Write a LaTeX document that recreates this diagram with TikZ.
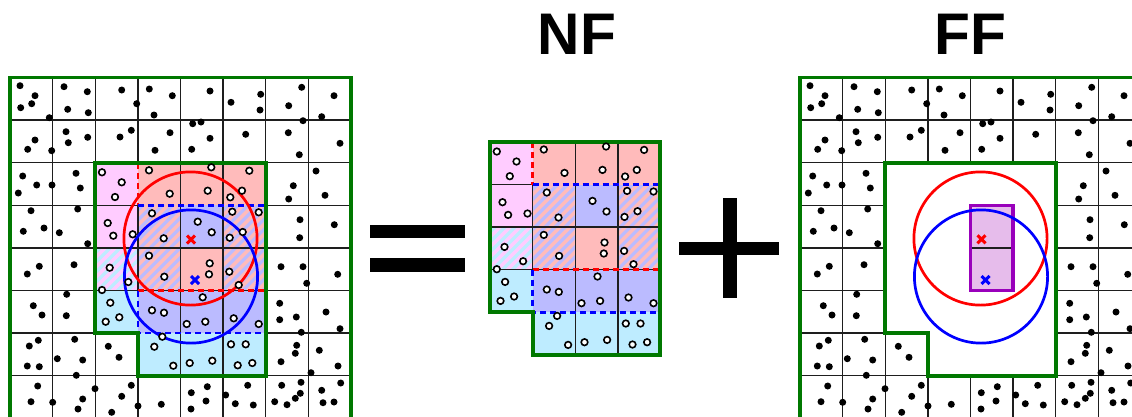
\documentclass[tikz,border=0pt]{standalone}
\usepackage{fontspec}
\newfontfamily\titlefont{Liberation Sans}
\definecolor{gr}{RGB}{0,120,0}
\definecolor{cellred}{RGB}{255,187,187}
\definecolor{cellblue}{RGB}{187,187,255}
\definecolor{cellpink}{RGB}{255,204,255}
\definecolor{cellcyan}{RGB}{190,236,255}
\definecolor{purp}{RGB}{153,0,187}
\definecolor{purpfill}{RGB}{230,188,235}
\definecolor{gline}{RGB}{30,30,30}
\newcommand\regionpath{(95.2,162.7) -- (265.6,162.7) -- (265.6,375.7) -- (137.8,375.7) -- (137.8,333.1) -- (95.2,333.1) -- cycle}
\newcommand\hatchrect[6]{%
  \begin{scope}
    \clip (#1,#2) rectangle (#3,#4);
    \fill[#5] (#1,#2) rectangle (#3,#4);
    \foreach \c in {0,10,...,140} \draw[#6, line width=3.6pt] (#1+\c+10,#2-10) -- (#1+\c-100,#2+100);
  \end{scope}}
\newcommand\outergrid{%
  \foreach \i in {0,...,8} \draw[gridline] (10+\i*42.6,77.5) -- (10+\i*42.6,418.3);
  \foreach \j in {0,...,8} \draw[gridline] (10,77.5+\j*42.6) -- (350.8,77.5+\j*42.6);}
\newcommand\blackdots{%
  \foreach \p in {(20,85.7),(35,95.7),(20.7,107.7),(31.7,103.7),(49.3,117.7),(64,86.7),(87.3,91.7),(67.7,109.3),(88.3,112.7),(121.7,90),(136.7,103.7),(149.3,89),(172.3,95.7),(154,115),(210,91),(231,102.3),(260.7,94.3),(260,110),(301.7,87.3),(288.7,105.7),(303,120.7),(334,95.7),(321.7,116.7),
  (35,140),(27.7,149.3),(51.7,150.7),(66,131.7),(68.3,142.7),(87.7,137.3),(120,137),(131.3,130.3),(155,150.3),(170,132.7),(192.7,123.7),(201,122),(210,138.3),(191.7,149.3),(245.7,134.3),(288.3,132.7),(299.3,154.7),(340,143.3),
  (22.7,176),(18.3,193),(36.7,185),(52,185),(76,173.3),(80.3,188),(293.3,185.7),(288.7,199),(316,171),(325,195.3),
  (31,210.7),(23.3,231.3),(44,228),(59.3,232.7),(77.7,209),(87.7,243.7),(300,219.7),(299.7,237.7),(334.3,224.7),
  (27.3,274),(39.3,266.3),(74,264.7),(281,266.7),(303,266.7),(306.7,283.3),(337.7,274.3),
  (33.3,305.7),(42,315),(66.7,294.3),(66.3,315.7),(279.7,303.3),(279.7,319.7),(296.3,317),(301.3,332.3),(326,312),(340,328.7),
  (29.3,346),(38.3,340.3),(27.3,366),(39.3,366.7),(57.3,358.7),(74.7,339.3),(82.7,360),(76.3,375.3),(108.3,346.3),(119,357.3),(296.7,345.3),(295.3,353.3),(281,361.7),(319.3,350.3),(338,366),(311,372.7),
  (37.7,386),(31,401.7),(52.7,402.3),(82.7,399),(78,409),(95,388.7),(111.7,412.3),(131.3,385.3),(121.7,396.3),(138,406),(161.3,404.3),(191.3,392.7),(207.3,386.7),(206,401),(191,409),(225.7,395),(247.7,385.3),(235.3,403.7),(253.3,405),(281.7,385.3),(274.7,401.7),(287,404.7),(301,382.3),(300.3,393.3),(295.3,398.3),(321.7,390.3),(323,402.7),(334,402),(340.7,383)}
  \fill[black] \p circle (3.5pt);}
\newcommand\opendots{%
  \foreach \p in {(102,172.3),(121.7,182.3),(115,197),(149,170.3),(169.7,193.7),(211.3,167.3),(207.7,190.7),(249.3,170.7),(242,190.7),(230.3,197.3),
  (107.7,223),(113.3,235.7),(132.7,234.3),(152,213.3),(163.7,238.3),(197.7,221.7),(211.7,232.3),(232.3,211.7),(258.7,212.3),(242.7,232),(229.7,237.7),
  (109.7,267.7),(128.3,282),(102,290),(149,255.7),(164.3,276.7),(209.7,263.3),(209,274.3),(229.3,271.7),(238.7,285),
  (110.3,302.7),(119.3,317.3),(105.7,321.7),(152,310.3),(164,312.7),(202.7,297.3),(186.7,324),(205.3,321.7),(233.7,318.3),(258.7,324),
  (162.3,336.7),(154.3,346.7),(173.3,365.7),(189.7,363),(212.3,360.7),(231,344.3),(245.7,344.3),(237.7,365.3),(252.3,363)}
  \draw[black, line width=1.6pt, fill=white] \p circle (3.3pt);}
\newcommand\regionbase{%
  \fill[cellpink] (95.2,162.7) rectangle (137.8,247.9);
  \fill[cellred] (137.8,162.7) rectangle (265.6,205.3);
  \fill[cellred] (180.4,247.9) rectangle (223,290.5);
  \fill[cellblue] (180.4,205.3) rectangle (223,247.9);
  \fill[cellblue] (137.8,290.5) rectangle (265.6,333.1);
  \fill[cellcyan] (95.2,290.5) rectangle (137.8,333.1);
  \fill[cellcyan] (137.8,333.1) rectangle (265.6,375.7);
  \hatchrect{137.8}{205.3}{180.4}{290.5}{cellblue}{cellred}
  \hatchrect{223}{205.3}{265.6}{290.5}{cellblue}{cellred}
  \hatchrect{95.2}{247.9}{137.8}{290.5}{cellcyan}{cellpink}
  \draw[gridline] (137.8,205.3) -- (137.8,290.5);
  \draw[gridline] (180.4,162.7) -- (180.4,375.7);
  \draw[gridline] (223,162.7) -- (223,375.7);
  \draw[gridline] (95.2,205.3) -- (137.8,205.3);
  \draw[gridline] (95.2,247.9) -- (265.6,247.9);
  \draw[gridline] (95.2,290.5) -- (265.6,290.5);
  \draw[reddash] (137.8,162.7) -- (137.8,205.3);
  \draw[reddash] (137.8,290.5) -- (265.6,290.5);
  \draw[bluedash] (137.8,205.3) -- (265.6,205.3);
  \draw[bluedash] (137.8,290.5) -- (137.8,333.1) -- (265.6,333.1);
  \draw[greenline] \regionpath;}
\newcommand\xmk[3]{\draw[#3, line width=3pt] (#1-4,#2-4) -- (#1+4,#2+4) (#1-4,#2+4) -- (#1+4,#2-4);}
\newcommand\bigcircles{%
  \draw[red, line width=2.7pt] (190.5,238.5) circle (66.6pt);
  \draw[blue, line width=2.7pt] (191,276.5) circle (66.6pt);}
\begin{document}
\begin{tikzpicture}[x=1pt,y=-1pt,
  gridline/.style={gline, line width=1.4pt},
  greenline/.style={gr, line width=3.9pt, line join=miter},
  reddash/.style={red, line width=2.5pt, dash pattern=on 6pt off 4pt},
  bluedash/.style={blue, line width=2.5pt, dash pattern=on 6pt off 4pt},
  titlestyle/.style={font=\titlefont\bfseries\fontsize{58.7}{60}\selectfont, inner sep=0pt},
  symbolbar/.style={fill=black}]
\useasboundingbox (0,0) rectangle (1132,416);
\clip (0,0) rectangle (1132,416);
\fill[white] (0,0) rectangle (1132,416);
% titles
\node[titlestyle, anchor=base] (nf) at (577,54) {NF};
\node[titlestyle, anchor=base] (ff) at (970,54) {FF};
% left panel
\begin{scope}
  \outergrid
  \regionbase
  \draw[greenline] (10,77.5) rectangle (350.8,430);
  \bigcircles
  \blackdots
  \opendots
  \xmk{191}{239.5}{red}
  \xmk{195}{280}{blue}
\end{scope}
% equals sign
\fill[symbolbar] (370,225) rectangle (465,238);
\fill[symbolbar] (370,258) rectangle (465,272);
% NF panel
\begin{scope}[shift={(394.8,-20.8)}]
  \regionbase
  \opendots
\end{scope}
% plus sign
\fill[symbolbar] (679,242) rectangle (779,255);
\fill[symbolbar] (723,198) rectangle (737,298);
% FF panel
\begin{scope}[shift={(790,0)}]
  \outergrid
  \fill[white] \regionpath;
  \fill[purpfill] (180.4,205.3) rectangle (223,290.5);
  \draw[gridline] (180.4,247.9) -- (223,247.9);
  \draw[purp, line width=3.5pt] (180.4,205.3) rectangle (223,290.5);
  \draw[greenline] \regionpath;
  \draw[greenline] (10,77.5) rectangle (350.8,430);
  \bigcircles
  \blackdots
  \xmk{191.5}{239.3}{red}
  \xmk{195.5}{280}{blue}
\end{scope}
\end{tikzpicture}
\end{document}
